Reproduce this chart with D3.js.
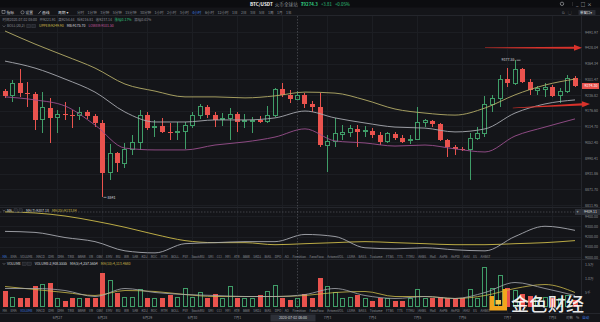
<!DOCTYPE html>
<html>
<head>
<meta charset="utf-8">
<title>BTC/USDT 4小时 K线</title>
<script src="https://cdn.jsdelivr.net/npm/d3@7/dist/d3.min.js"></script>
<style>
  html, body { margin: 0; padding: 0; background: #141519; overflow: hidden; }
  svg { display: block; }
  text { font-family: "Noto Sans CJK SC", "Noto Sans", "DejaVu Sans", sans-serif; }
</style>
</head>
<body>
<svg id="chart" width="600" height="322"></svg>
<script>
// ---------------- data: BTC/USDT, 4-hour candles ----------------
const priceOpen = [9254,9238,9286,9246,9242,9140,9187,9148,9163,9159,
  9156,9171,9156,9128,8934,9011,8972,9023,9050,9159,
  9110,9116,9093,9089,9093,9120,9156,9191,9159,9140,
  9144,9163,9132,9135,9138,9132,9156,9262,9238,9221.91,
  9237,9203,9191,9042,9054,9084,9089,9105,9093,9097,
  9081,9054,9085,9069,9058,9065,9128,9136,9124,9062,
  9034,9027,9025,9069,9085,9199,9223,9302,9286,9342,
  9290,9258,9262,9270,9235,9254,9306];
const priceHigh = [9262,9298,9342,9290,9250,9250,9227,9179,9211,9179,
  9191,9179,9163,9140,9046,9015,9050,9081,9179,9171,
  9140,9148,9128,9132,9132,9171,9203,9199,9171,9167,
  9187,9171,9163,9152,9156,9195,9266,9286,9258,9254.44,
  9246,9215,9246,9081,9148,9120,9120,9120,9116,9108,
  9093,9093,9093,9081,9081,9191,9144,9140,9128,9065,
  9042,9034,9089,9112,9235,9238,9318,9346,9377.55,9346,
  9302,9274,9286,9278,9266,9318,9314];
const priceLow = [9227,9211,9230,9191,9101,9089,9050,9089,9140,9108,
  9140,9144,9112,8841,8907,8938,8953,9003,9023,9101,
  9073,9089,9062,9062,9027,9108,9144,9148,9112,9116,
  9062,9093,9108,9089,9128,9128,9152,9231,9207,9216.81,
  9187,9171,9034,8938,9034,9062,9073,9034,9073,9069,
  9042,9050,9062,9050,9046,9062,9112,9112,9058,8996,
  9003,9019,8907,9062,9073,9171,9191,9270,9278,9286,
  9238,9238,9231,9231,9207,9246,9270];
const priceClose = [9235,9286,9246,9242,9140,9187,9148,9163,9159,9156,
  9171,9156,9128,8934,9011,8972,9023,9050,9159,9108,
  9116,9093,9089,9093,9120,9156,9191,9159,9140,9144,
  9163,9132,9136,9138,9132,9156,9262,9238,9223,9237.14,
  9203,9191,9042,9054,9085,9089,9105,9093,9097,9081,
  9054,9085,9069,9054,9065,9128,9136,9124,9062,9034,
  9027,9025,9069,9085,9199,9223,9302,9286,9342,9290,
  9258,9266,9270,9235,9254,9306,9274.3];
const volume = [5700,3200,2860,3200,7500,7850,8570,2860,1790,2860,
  2860,3200,3200,12140,9280,5000,3200,3200,6070,3200,
  2860,2860,4280,3200,6430,3200,5000,2860,4640,2860,
  7140,2860,2860,2860,3930,5360,7500,2860,2500,2908.56,
  4640,3200,10350,7140,5000,2860,3200,4280,2860,1790,
  2860,2860,1790,2140,2860,6070,2860,3200,3570,3200,
  2860,2860,6070,2860,13920,6430,11070,6430,5710,4300,
  3600,2900,3300,3100,2700,4000,2500];

// indicator readings, one every four candles
const sampleIndex = [0,4,8,12,16,20,24,28,32,36,40,44,48,52,56,60,64,68,72,76];
const bollUpper = [9496,9443,9395,9346,9282,9254,9231,9231,9227,9235,9250,9246,9219,9183,9167,9159,9187,9239,9278,9302];
const bollMid   = [9374,9346,9302,9250,9171,9132,9132,9140,9140,9148,9175,9148,9128,9112,9108,9093,9105,9167,9203,9219];
const bollLower = [9231,9219,9195,9120,9030,9023,9023,9042,9054,9073,9105,9058,9050,9038,9042,9027,9015,9077,9112,9144];
const ma7  = [9250,9240,9190,9150,9060,9040,9130,9140,9150,9150,9220,9200,9090,9080,9090,9070,9060,9200,9300,9260];
const ma25 = [9440,9430,9400,9350,9290,9220,9160,9140,9140,9120,9130,9140,9150,9140,9130,9120,9120,9130,9140,9160];
const volMa5  = [6430,6430,5710,3570,6430,5000,4280,3930,3570,3570,4280,6430,3930,2860,3570,2860,5000,8570,6430,3930];
const volMa10 = [7140,6070,5000,3930,5710,5360,4280,3570,3570,3570,3930,5000,5360,3570,3570,2860,3930,6430,7850,5000];

// axis ticks and labels
const priceTicks = [9491.97,9428.04,9364.34,9301.47,9236.82,9176.60,9114.70,9052.40,8990.41,8931.86,8871.70,8811.95];
const maTicks = [9400,9300,9200,9100,9000];
const volTicks = [15000,10000,5000];
const volTickLabels = ["1.5万","1.0万","5千"];
const dayIndex  = [7,13,19,25,31,37,43,49,55,61,67,73];
const dayLabels = ["6月27","6月28","6月29","6月30","7月1","7月2","7月3","7月4","7月5","7月6","7月7","7月8"];

const periods = ["分时","1分钟","3分钟","5分钟","15分钟","30分钟","1小时","2小时","3小时","4小时","6小时","12小时","1日","2日","3日","5日","1周","1月","1年"];
const activePeriod = "4小时";
const indicatorNames = ["MA","EMA","VOLUME","MACD","DMI","DMA","TRIX","BRAR","VR","OBV","EMV","RSI","WR","SAR","KDJ","ROC","MTM","BOLL","PSY","StochRSI","SMI","CCI","MFI","ATR","BBW","SKDJ","BIAS","DPO","AO","Fireshion","FanoFlow","ArtsmnVOL","LSMA","BASS","Tvolume","FTBS","TTS","TTMU","AHBS","MoE","AhPB","AhPDI","AHU","ES","AHBST"];

const focusIndex = 39;                 // candle under the pointer
const focusTime = "2020-07-02 08:00";
const pointerValue = "9409.11";
const lastPrice = 9274.3, lastChange = 3.81, lastChangePct = 0.05;
const highMark = 68, lowMark = 13;     // candles carrying the range labels
// annotation arrows: [start candle, start price, end price]
const arrows = [[64, 9428.04, 9428.04], [67.7, 9187, 9203]];

// ---------------- layout ----------------
const C = {
  bg: "#141519", head: "#0c0d10", grid: "#1c1e23", sep: "#24262c",
  text: "#8b8e96", white: "#d8dadf", up: "#3f9d68", down: "#ea534e",
  upper: "#b4ad68", mid: "#a7a9b0", lower: "#9a4f8d", blue: "#3d7de0", yellow: "#cdbb4a",
  box: "#2d3038", arrow: "#d9322b"
};
const axisX = 581;
const main = {top: 16, bottom: 207};
const maPane = {top: 208, bottom: 256};
const volPane = {top: 266, bottom: 307};
const pointerY = 212;

const svg = d3.select("#chart");
svg.append("rect").attr("width", 600).attr("height", 322).attr("fill", C.bg);
svg.append("rect").attr("width", 600).attr("height", 7.5).attr("fill", C.head);

const defs = svg.append("defs");
function clip(id, y0, y1) {
  defs.append("clipPath").attr("id", id).append("rect")
    .attr("x", 0).attr("y", y0).attr("width", axisX).attr("height", y1 - y0);
  return `url(#${id})`;
}
const clipMain = clip("clipMain", main.top, main.bottom);
const clipMa = clip("clipMa", maPane.top, maPane.bottom);
const clipVol = clip("clipVol", volPane.top - 4, volPane.bottom);

// scales
const x = d3.scaleLinear().domain([0, 76]).range([5, 575]);
const y = d3.scaleLog().domain([8811.95, 9491.97]).range([205, 32]);
const yMa = d3.scaleLinear().domain([9000, 9400]).range([257, 216]);
const yVol = d3.scaleLinear().domain([0, 15000]).range([306.5, 264.5]);
const px = i => Math.floor(x(i)) + 0.5;

// grid
const grid = svg.append("g").attr("stroke", C.grid).attr("stroke-width", 1).attr("shape-rendering", "crispEdges");
grid.selectAll(".gv").data(dayIndex).join("line")
  .attr("x1", d => px(d)).attr("x2", d => px(d)).attr("y1", main.top).attr("y2", 313);
grid.selectAll(".gh").data(priceTicks).join("line")
  .attr("x1", 0).attr("x2", axisX).attr("y1", d => Math.round(y(d)) + 0.5).attr("y2", d => Math.round(y(d)) + 0.5);
grid.selectAll(".gm").data(maTicks).join("line")
  .attr("x1", 0).attr("x2", axisX).attr("y1", d => Math.round(yMa(d)) + 0.5).attr("y2", d => Math.round(yMa(d)) + 0.5);

// separators
const sep = svg.append("g").attr("stroke", C.sep).attr("shape-rendering", "crispEdges");
[[0, 600, 15.5, 15.5], [0, 600, 207.5, 207.5], [0, 600, 259.5, 259.5], [0, 600, 313.5, 313.5], [axisX + 0.5, axisX + 0.5, 15.5, 313.5]]
  .forEach(l => sep.append("line").attr("x1", l[0]).attr("x2", l[1]).attr("y1", l[2]).attr("y2", l[3]));

// ---------------- candlesticks ----------------
const idx = d3.range(priceOpen.length);
const isUp = i => priceClose[i] >= priceOpen[i];
const gCandle = svg.append("g").attr("clip-path", clipMain).attr("shape-rendering", "crispEdges");
gCandle.selectAll("line").data(idx).join("line")
  .attr("x1", px).attr("x2", px)
  .attr("y1", i => y(priceHigh[i])).attr("y2", i => y(priceLow[i]))
  .attr("stroke", i => isUp(i) ? C.up : C.down).attr("stroke-width", 1);
gCandle.selectAll("rect").data(idx).join("rect")
  .attr("x", i => isUp(i) ? Math.floor(x(i)) - 1.5 : Math.floor(x(i)) - 2)
  .attr("width", i => isUp(i) ? 4 : 5)
  .attr("y", i => y(Math.max(priceOpen[i], priceClose[i])))
  .attr("height", i => Math.max(1, y(Math.min(priceOpen[i], priceClose[i])) - y(Math.max(priceOpen[i], priceClose[i]))))
  .attr("fill", i => isUp(i) ? C.bg : C.down)
  .attr("stroke", i => isUp(i) ? C.up : "none").attr("stroke-width", 1);

// Bollinger bands
function series(vals) { return sampleIndex.map((s, k) => ({i: s, v: vals[k]})); }
const gBand = svg.append("g").attr("clip-path", clipMain).attr("fill", "none").attr("stroke-width", 0.9);
const bandLine = d3.line().x(d => x(d.i)).y(d => y(d.v)).curve(d3.curveMonotoneX);
[[bollUpper, C.upper], [bollMid, C.mid], [bollLower, C.lower]].forEach(([vals, col]) =>
  gBand.append("path").datum(series(vals)).attr("d", bandLine).attr("stroke", col));

// range labels
const gMark = svg.append("g").attr("font-size", 3.6).attr("fill", C.white);
{
  const hx = px(highMark), hy = y(priceHigh[highMark]);
  gMark.append("line").attr("x1", hx + 1).attr("x2", hx + 5).attr("y1", hy).attr("y2", hy).attr("stroke", C.white).attr("stroke-width", 0.6);
  gMark.append("text").attr("x", hx - 1).attr("y", hy + 1.2).attr("text-anchor", "end").text(d3.format(".2f")(priceHigh[highMark]));
  const lx = px(lowMark), ly = y(priceLow[lowMark]);
  gMark.append("line").attr("x1", lx + 1).attr("x2", lx + 4).attr("y1", ly).attr("y2", ly).attr("stroke", C.white).attr("stroke-width", 0.6);
  gMark.append("text").attr("x", lx + 5).attr("y", ly + 1.2).text(d3.format("d")(priceLow[lowMark]));
}

// price axis
const gAxis = svg.append("g").attr("transform", `translate(${axisX},0)`)
  .call(d3.axisRight(y).tickValues(priceTicks).tickSize(0).tickPadding(4).tickFormat(d3.format(".2f")));
gAxis.select(".domain").remove();
gAxis.selectAll("text").attr("font-size", 3.6).attr("fill", C.text).attr("font-family", "Noto Sans, sans-serif");

// last price tag
{
  const ly = y(lastPrice);
  svg.append("rect").attr("x", axisX + 1).attr("y", ly - 3).attr("width", 17).attr("height", 6).attr("fill", C.down);
  svg.append("text").attr("x", axisX + 3.5).attr("y", ly + 1.3).attr("font-size", 3.6).attr("fill", "#fff").text(d3.format(".2f")(lastPrice));
}

// ---------------- MA pane ----------------
const gMa = svg.append("g").attr("clip-path", clipMa).attr("fill", "none").attr("stroke-width", 0.9);
const maLine = d3.line().x(d => x(d.i)).y(d => yMa(d.v)).curve(d3.curveMonotoneX);
gMa.append("path").datum(series(ma25)).attr("d", maLine).attr("stroke", C.yellow);
gMa.append("path").datum(series(ma7)).attr("d", maLine).attr("stroke", C.mid);
const gMaAxis = svg.append("g").attr("transform", `translate(${axisX},0)`)
  .call(d3.axisRight(yMa).tickValues(maTicks).tickSize(0).tickPadding(4).tickFormat(d3.format(".2f")));
gMaAxis.select(".domain").remove();
gMaAxis.selectAll("text").attr("font-size", 3.6).attr("fill", C.text);

// ---------------- volume pane ----------------
const gVol = svg.append("g").attr("clip-path", clipVol).attr("shape-rendering", "crispEdges");
gVol.selectAll("rect").data(idx).join("rect")
  .attr("x", i => isUp(i) ? Math.floor(x(i)) - 1.5 : Math.floor(x(i)) - 2)
  .attr("width", i => isUp(i) ? 4 : 5)
  .attr("y", i => yVol(volume[i]))
  .attr("height", i => yVol(0) - yVol(volume[i]))
  .attr("fill", i => isUp(i) ? C.bg : C.down)
  .attr("stroke", i => isUp(i) ? C.up : "none").attr("stroke-width", 1);
const volLine = d3.line().x(d => x(d.i)).y(d => yVol(d.v)).curve(d3.curveMonotoneX);
const gVolMa = svg.append("g").attr("clip-path", clipVol).attr("fill", "none").attr("stroke-width", 0.8);
gVolMa.append("path").datum(series(volMa10)).attr("d", volLine).attr("stroke", C.yellow);
gVolMa.append("path").datum(series(volMa5)).attr("d", volLine).attr("stroke", C.mid);
const gVolAxis = svg.append("g").attr("transform", `translate(${axisX},0)`)
  .call(d3.axisRight(yVol).tickValues(volTicks).tickSize(0).tickPadding(4).tickFormat((d, k) => volTickLabels[k]));
gVolAxis.select(".domain").remove();
gVolAxis.selectAll("text").attr("font-size", 3.6).attr("fill", C.text);

// ---------------- text helpers ----------------
function flow(x0, yb, size, gap, parts) {
  let cx = x0;
  parts.forEach(p => {
    const t = svg.append("text").attr("x", cx).attr("y", yb).attr("font-size", size)
      .attr("fill", p.fill || C.text).attr("font-weight", p.bold ? 700 : 400).text(p.text);
    cx += t.node().getComputedTextLength() + gap;
  });
  return cx;
}
function chevron(cx, cy) {
  svg.append("path").attr("d", `M${cx - 1.3},${cy - 0.7} L${cx},${cy + 0.7} L${cx + 1.3},${cy - 0.7}`)
    .attr("fill", "none").attr("stroke", C.text).attr("stroke-width", 0.5);
}
function boxes(x0, cy) {
  [0, 5].forEach(dx => svg.append("rect").attr("x", x0 + dx).attr("y", cy - 1.7).attr("width", 3.4).attr("height", 3.4)
    .attr("fill", "#22252b").attr("stroke", "#4a4d55").attr("stroke-width", 0.4));
  return x0 + 11;
}

// title bar
flow(250, 5.8, 4.6, 2, [{text: "BTC/USDT", fill: "#f2f3f5", bold: true}, {text: "火币全球站", fill: C.text}]);
flow(301, 5.8, 4.4, 3, [
  {text: "₮" + lastPrice, fill: "#2fc27c", bold: true},
  {text: "+" + lastChange, fill: "#2fc27c"},
  {text: "+" + lastChangePct.toFixed(2) + "%", fill: "#2fc27c"}]);
svg.append("circle").attr("cx", 562).attr("cy", 3.8).attr("r", 1.7).attr("fill", "none").attr("stroke", C.white).attr("stroke-width", 0.5);
svg.append("line").attr("x1", 572.5).attr("x2", 572.5).attr("y1", 2).attr("y2", 6).attr("stroke", "#444").attr("stroke-width", 0.5);
flow(576, 5.6, 4.4, 2.2, [{text: "_", fill: C.white}, {text: "□", fill: C.white}, {text: "×", fill: C.white}]);

// toolbar
svg.append("rect").attr("x", 2).attr("y", 10.7).attr("width", 3).attr("height", 3).attr("fill", "none").attr("stroke", C.white).attr("stroke-width", 0.4);
flow(6.5, 13.6, 3.8, 0, [{text: "指标", fill: C.white}]);
svg.append("circle").attr("cx", 22.5).attr("cy", 12.3).attr("r", 1.6).attr("fill", "none").attr("stroke", C.white).attr("stroke-width", 0.4);
flow(25.5, 13.6, 3.8, 0, [{text: "设置", fill: C.white}]);
svg.append("line").attr("x1", 38.5).attr("x2", 41).attr("y1", 13.8).attr("y2", 10.8).attr("stroke", C.white).attr("stroke-width", 0.5);
flow(42, 13.6, 3.8, 0, [{text: "画线", fill: C.white}]);
flow(58, 13.6, 3.8, 0, [{text: "周期 ▾", fill: C.white}]);
flow(77, 13.6, 3.6, 3.4, periods.map(p => ({text: p, fill: p === activePeriod ? C.blue : C.text})));
flow(562, 13.6, 3.6, 3, [{text: "⧉", fill: C.text}, {text: "▢", fill: C.text}]);
svg.append("rect").attr("x", 578.5).attr("y", 10).attr("width", 17).attr("height", 5).attr("rx", 0.6).attr("fill", "#2a2d34");
svg.append("text").attr("x", 580).attr("y", 13.6).attr("font-size", 3.4).attr("fill", C.white).text("单窗口▾");

// candle info row
const f2 = d3.format(".2f");
const fo = priceOpen[focusIndex], fc = priceClose[focusIndex];
flow(2.5, 21.3, 3.5, 2.6, [
  {text: "时间" + focusTime},
  {text: "开" + f2(fo)}, {text: "高" + f2(priceHigh[focusIndex])},
  {text: "低" + f2(priceLow[focusIndex])}, {text: "收" + f2(fc)},
  {text: "涨幅" + ((fc - fo) / fo * 100).toFixed(2) + "%", fill: "#2fc27c"},
  {text: "振幅" + ((priceHigh[focusIndex] - priceLow[focusIndex]) / fo * 100).toFixed(2) + "%"}]);

// BOLL legend row
chevron(4, 26.2);
let bx = flow(7, 27.4, 3.5, 2, [{text: "BOLL(20,2)"}]);
bx = boxes(bx, 26.1);
flow(bx + 1, 27.4, 3.5, 3, [
  {text: "UPPER:9249.90", fill: C.yellow},
  {text: "MB:9175.70", fill: C.white},
  {text: "LOWER:9101.50", fill: "#c2579f"}]);

// MA legend row
chevron(4, 210.5);
let mx = flow(7, 211.8, 3.5, 2, [{text: "MA", fill: C.white}]);
mx = boxes(mx, 210.5);
flow(mx + 1, 211.8, 3.5, 3, [{text: "MA(7):9207.18", fill: C.white}, {text: "MA(25):9133.84", fill: C.yellow}]);

// VOLUME legend row
chevron(4, 263.8);
let vx = flow(7, 265.1, 3.5, 2, [{text: "VOLUME", fill: C.white}]);
vx = boxes(vx, 263.8);
flow(vx + 1, 265.1, 3.5, 3, [
  {text: "VOLUME:2,908.5555", fill: C.white},
  {text: "MA(5):4,257.5654", fill: C.white},
  {text: "MA(10):4,113.4680", fill: C.yellow}]);

// indicator name rows
flow(2.5, 258.2, 3.15, 3.5, indicatorNames.map((n, k) => ({text: n, fill: k === 0 ? C.blue : C.text})));
flow(2.5, 312, 3.15, 3.5, indicatorNames.map(n => ({text: n, fill: n === "VOLUME" ? C.blue : C.text})));

// date axis (the label under the pointer's time tag stays hidden)
const cxp = px(focusIndex);
const tagL = cxp - 27, tagR = cxp + 18;
svg.append("g").selectAll("text").data(dayIndex.filter(d => px(d) + 7 < tagL || px(d) - 7 > tagR)).join("text")
  .attr("x", d => px(d)).attr("y", 318.8).attr("text-anchor", "middle")
  .attr("font-size", 3.5).attr("fill", C.text).text(d => dayLabels[dayIndex.indexOf(d)]);
flow(566, 318.8, 3.5, 3, [{text: "对数", fill: C.text}, {text: "%", fill: C.text}, {text: "自动", fill: C.blue}]);

// ---------------- pointer crosshair ----------------
svg.append("line").attr("x1", cxp).attr("x2", cxp).attr("y1", main.top).attr("y2", 313.5)
  .attr("stroke", "#6b6e76").attr("stroke-width", 0.5).attr("stroke-dasharray", "1.5,1.5");
svg.append("line").attr("x1", 0).attr("x2", axisX).attr("y1", pointerY).attr("y2", pointerY)
  .attr("stroke", "#6b6e76").attr("stroke-width", 0.5).attr("stroke-dasharray", "1.5,1.5");
svg.append("rect").attr("x", 575).attr("y", pointerY - 3).attr("width", 25).attr("height", 6).attr("fill", C.box);
svg.append("text").attr("x", 576.5).attr("y", pointerY + 1.4).attr("font-size", 4).attr("fill", C.white).text("+");
svg.append("text").attr("x", 584).attr("y", pointerY + 1.3).attr("font-size", 3.6).attr("fill", C.white).text(pointerValue);
svg.append("rect").attr("x", tagL).attr("y", 314.5).attr("width", tagR - tagL).attr("height", 7).attr("fill", C.box);
svg.append("text").attr("x", (tagL + tagR) / 2).attr("y", 319.3).attr("text-anchor", "middle").attr("font-size", 3.6).attr("fill", C.white).text(focusTime);

// ---------------- annotation arrows ----------------
arrows.forEach(([i0, p0, p1]) => {
  const x0 = x(i0), y0 = y(p0), x1 = axisX + (p0 === p1 ? 1 : 9), y1 = y(p1);
  const ang = Math.atan2(y1 - y0, x1 - x0), len = Math.hypot(x1 - x0, y1 - y0);
  const g = svg.append("g").attr("transform", `translate(${x0},${y0}) rotate(${ang * 180 / Math.PI})`);
  g.append("path")
    .attr("d", `M0,-0.3 L${len - 8},-1.1 L${len - 8},-3 L${len},0 L${len - 8},3 L${len - 8},1.1 L0,0.3 Z`)
    .attr("fill", C.arrow);
});

// ---------------- watermark ----------------
const wm = svg.append("g");
wm.append("path").attr("d", "M489.5,296 h4.5 v10 h8.5 v-17 h4.5 v21.5 h-17.5 Z").attr("fill", "#f2a51d");
wm.append("rect").attr("x", 495.5).attr("y", 300).attr("width", 5.5).attr("height", 4.5).attr("fill", "#f7c948");
wm.append("text").attr("x", 511).attr("y", 310.5).attr("font-size", 18).attr("font-weight", 500)
  .attr("textLength", 73).attr("lengthAdjust", "spacing")
  .attr("fill", "#ffffff").attr("fill-opacity", 0.93).text("金色财经");
</script>
</body>
</html>
